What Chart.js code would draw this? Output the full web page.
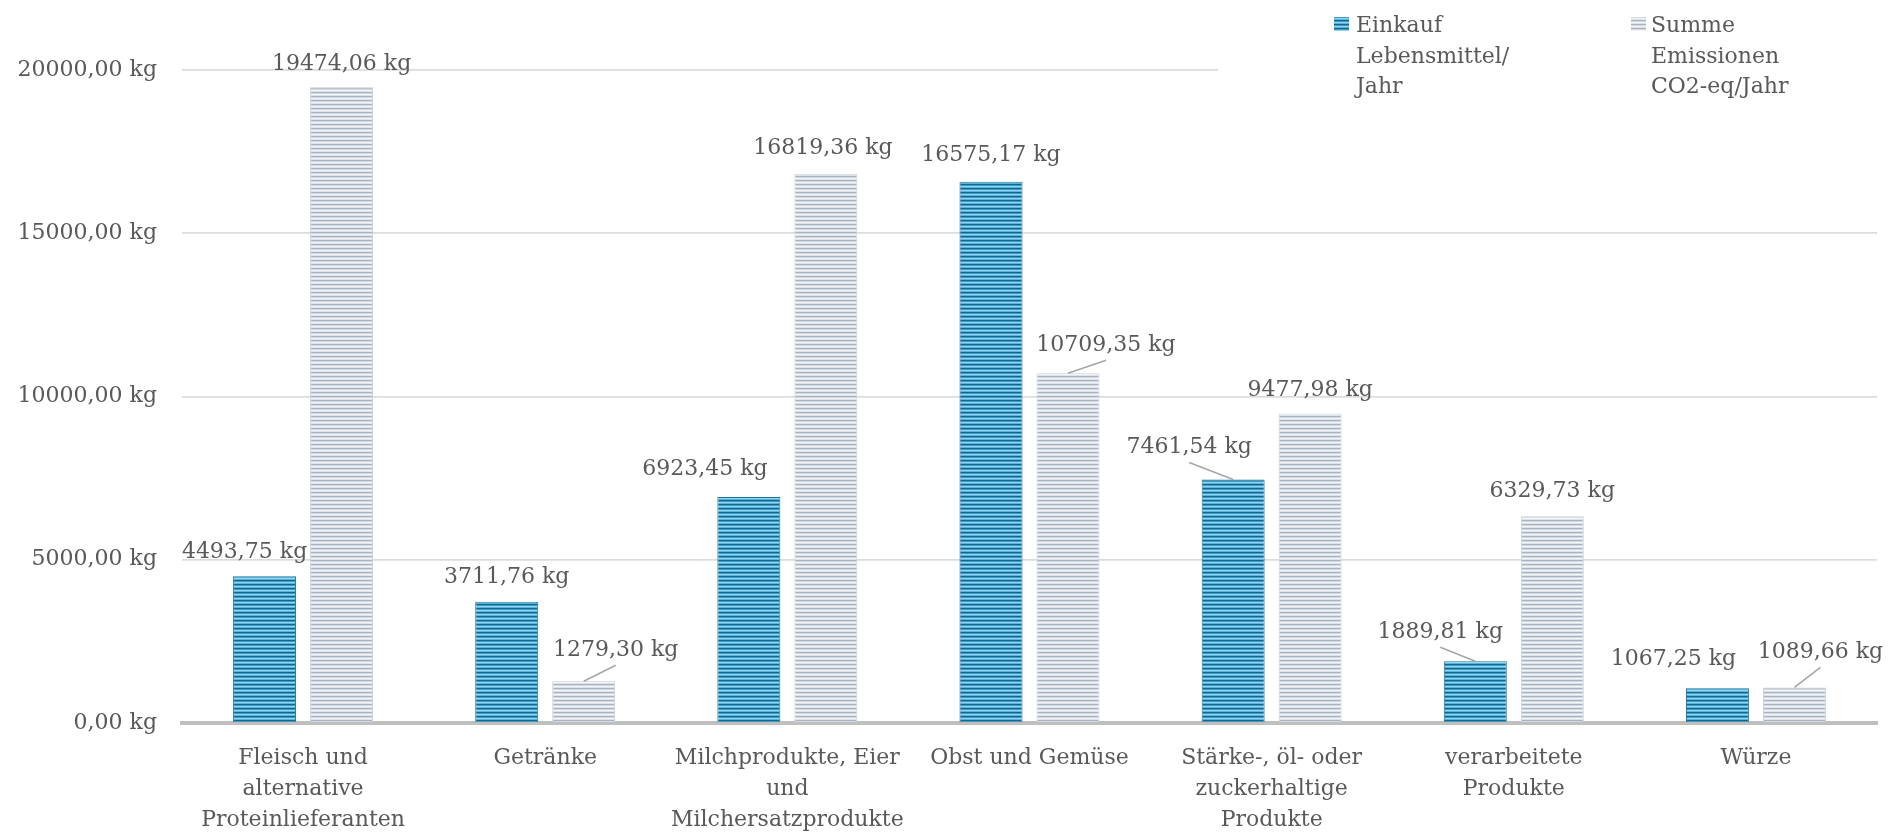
<!DOCTYPE html>
<html>
<head>
<meta charset="utf-8">
<script src="https://cdn.jsdelivr.net/npm/chart.js@4"></script>
<style>
  html, body { margin: 0; padding: 0; background: #ffffff; }
  #wrap { width: 1901px; height: 832px; position: relative; }
</style>
</head>
<body>
<div id="wrap"><canvas id="c" width="1901" height="832"></canvas></div>
<script>
// ---- data ----
const categories = [
  ["Fleisch und", "alternative", "Proteinlieferanten"],
  ["Getränke"],
  ["Milchprodukte, Eier", "und", "Milchersatzprodukte"],
  ["Obst und Gemüse"],
  ["Stärke-, öl- oder", "zuckerhaltige", "Produkte"],
  ["verarbeitete", "Produkte"],
  ["Würze"]
];
const einkauf = [4493.75, 3711.76, 6923.45, 16575.17, 7461.54, 1889.81, 1067.25];
const emissionen = [19474.06, 1279.30, 16819.36, 10709.35, 9477.98, 6329.73, 1089.66];
const seriesNames = [["Einkauf", "Lebensmittel/", "Jahr"], ["Summe", "Emissionen", "CO2-eq/Jahr"]];
const yTickValues = [0, 5000, 10000, 15000, 20000];

// ---- style config (label placement: dx, dy from bar top, leader line) ----
const labelOffsets = [
  [[-20, -26, 0], [0, -27, 0], [-44, -30, 0], [0, -29, 0], [-44, -34, 1], [-35, -31, 1], [-44, -31, 0]],
  [[0, -25, 0], [32, -33, 1], [-3, -28, 0], [38, -30, 1], [0, -26, 0], [0, -27, 0], [26, -37, 1]]
];
const FONT = "'DejaVu Serif', 'Liberation Serif', serif";
const TEXT = "#595959";

function fmt(v) { return v.toFixed(2).replace('.', ',') + ' kg'; }

function stripePattern(rows) {
  const c = document.createElement('canvas');
  c.width = 8; c.height = rows.length;
  const x = c.getContext('2d');
  rows.forEach((col, i) => { x.fillStyle = col; x.fillRect(0, i, 8, 1); });
  return document.getElementById('c').getContext('2d').createPattern(c, 'repeat');
}
const bluePat = stripePattern(['#176689', '#3b9bc6', '#8fd6f2', '#58b2d9']);
const greyPat = stripePattern(['#a8b4c2', '#d2d9e1', '#f2f4f7', '#dee3e9']);

const labelPlugin = {
  id: 'labels',
  afterDatasetsDraw(chart) {
    const ctx = chart.ctx;
    ctx.save();
    ctx.font = "22px " + FONT;
    ctx.fillStyle = TEXT;
    ctx.textAlign = 'center';
    ctx.textBaseline = 'alphabetic';
    chart.data.datasets.forEach((ds, di) => {
      const meta = chart.getDatasetMeta(di);
      meta.data.forEach((bar, i) => {
        const off = labelOffsets[di][i];
        const cx = bar.x + off[0];
        const cy = bar.y + off[1];
        if (off[2]) {
          ctx.strokeStyle = '#a6a6a6';
          ctx.lineWidth = 1.6;
          ctx.beginPath();
          ctx.moveTo(bar.x, bar.y);
          ctx.lineTo(cx, cy + 17);
          ctx.stroke();
        }
        ctx.fillText(fmt(ds.data[i]), cx, cy + 8);
      });
    });
    ctx.restore();
  },
  afterDraw(chart) {
    const ctx = chart.ctx;
    ctx.save();
    ctx.fillStyle = '#ffffff';
    ctx.fillRect(1218, 0, 683, 100);
    ctx.font = "22px " + FONT;
    ctx.textAlign = 'left';
    ctx.textBaseline = 'alphabetic';
    const items = [
      { sx: 1334, tx: 1356, pat: bluePat },
      { sx: 1631, tx: 1651, pat: greyPat }
    ];
    items.forEach((it, k) => {
      ctx.fillStyle = it.pat;
      ctx.fillRect(it.sx, 17, 15, 14);
      ctx.fillStyle = TEXT;
      seriesNames[k].forEach((line, j) => {
        ctx.fillText(line, it.tx, 24 + j * 30.5 + 8);
      });
    });
    ctx.restore();
  }
};

new Chart(document.getElementById('c'), {
  type: 'bar',
  data: {
    labels: categories,
    datasets: [
      { label: seriesNames[0].join(' '), data: einkauf, backgroundColor: bluePat, borderColor: '#1f7398', borderWidth: 1, borderSkipped: 'bottom' },
      { label: seriesNames[1].join(' '), data: emissionen, backgroundColor: greyPat, borderColor: '#c8d0d9', borderWidth: 1, borderSkipped: 'bottom' }
    ]
  },
  options: {
    responsive: false,
    animation: false,
    devicePixelRatio: 1,
    layout: { padding: { top: 70, right: 24, left: 0, bottom: 0 } },
    datasets: { bar: { categoryPercentage: 0.636, barPercentage: 0.818 } },
    plugins: { legend: { display: false }, tooltip: { enabled: false } },
    scales: {
      x: {
        grid: { display: false, drawTicks: false },
        border: { display: true, color: '#bfbfbf', width: 4 },
        ticks: { color: TEXT, font: { family: FONT, size: 22, lineHeight: 1.41 }, padding: 20, maxRotation: 0, autoSkip: false },
        afterFit(s) { s.height = 109; }
      },
      y: {
        min: 0, max: 20000,
        afterBuildTicks(s) { s.ticks = yTickValues.map(v => ({ value: v })); },
        grid: { color: '#dcdcdc', lineWidth: 1.8, drawTicks: false },
        border: { display: false },
        ticks: { color: TEXT, font: { family: FONT, size: 22 }, padding: 25, callback: v => fmt(v) },
        afterFit(s) { s.width = 182; }
      }
    }
  },
  plugins: [labelPlugin]
});
</script>
</body>
</html>
